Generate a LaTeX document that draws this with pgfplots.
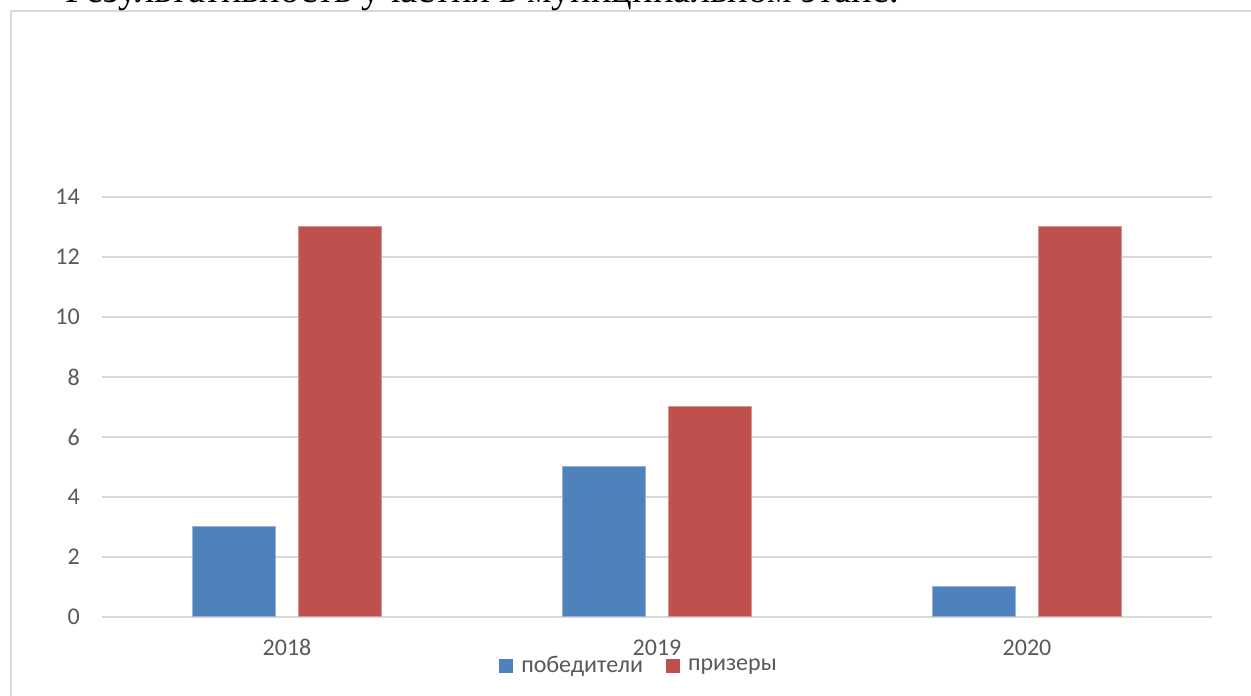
\documentclass[border=0pt]{standalone}
\usepackage{pgfplots}
\pgfplotsset{compat=1.18}
\usepackage{fontspec}
\setmainfont{Carlito}
\newfontfamily\titlefont{Liberation Serif}

\definecolor{winblue}{HTML}{4F81BD}
\definecolor{winred}{HTML}{C0504D}
\definecolor{gridgray}{HTML}{D9D9D9}
\definecolor{labelgray}{HTML}{595959}

\begin{document}
\begin{tikzpicture}
  % the reference is a cut-out of a page: keep its size and clip to it
  \useasboundingbox (0pt,0pt) rectangle (1251pt,696pt);
  \clip (0pt,0pt) rectangle (1251pt,696pt);

  % chart frame, only its left and top edges lie inside the cut-out
  \draw[gridgray, line width=2pt] (11pt,-20pt) -- (11pt,685pt) -- (1300pt,685pt);

  % page heading, cut off by the top edge
  \node[anchor=base west, inner sep=0pt, font=\titlefont\fontsize{38.5}{44}\selectfont]
    at (65pt,693pt) {Результативность участия в муниципальном этапе.};

  \begin{axis}[
    at={(102pt,79pt)}, anchor=south west,
    scale only axis,
    width=1110pt, height=420pt,
    ybar=23pt, bar width=83pt,
    xmin=-0.5, xmax=2.5,
    ymin=0, ymax=14,
    xtick={0,1,2},
    xticklabels={2018,2019,2020},
    ytick={0,2,...,14},
    axis line style={draw=none},
    major tick length=0pt,
    ymajorgrids=true,
    major grid style={gridgray, line width=1.5pt},
    tick label style={labelgray, font=\fontsize{24}{29}\selectfont},
    /pgf/number format/assume math mode=true,
    yticklabel style={inner sep=0pt, anchor=east, xshift=-22pt},
    xticklabel style={inner sep=0pt, anchor=base, yshift=-39pt},
    legend columns=2,
    legend style={
      at={(0.4838,-0.1155)}, anchor=center,
      draw=none, fill=none,
      font=\fontsize{24}{29}\selectfont, text=labelgray,
      /tikz/every even column/.append style={column sep=21pt},
    },
    legend image code/.code={
      \fill[#1, draw=none] (0pt,-7pt) rectangle (14pt,7pt);
      \path[draw=none, fill=none] (0pt,0pt) (20pt,0pt);
    },
  ]
    \addplot[fill=winblue, draw=winblue!60!white, line width=1pt]
      coordinates {(0,3) (1,5) (2,1)};
    \addplot[fill=winred, draw=winred!60!white, line width=1pt]
      coordinates {(0,13) (1,7) (2,13)};
    \legend{победители, призеры}
  \end{axis}
\end{tikzpicture}
\end{document}
